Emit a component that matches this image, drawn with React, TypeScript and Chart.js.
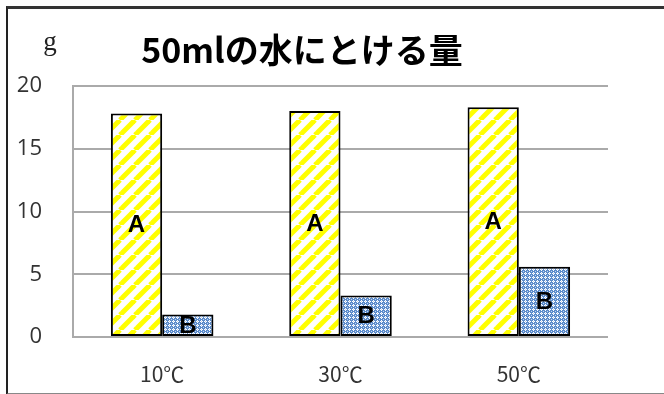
import React, { useEffect, useRef } from "react";
import { Chart, registerables } from "chart.js";

Chart.register(...registerables);

const categories = ["10℃", "30℃", "50℃"];
const seriesA = [17.8, 18.0, 18.3];
const seriesB = [1.8, 3.3, 5.6];
const seriesLabels = ["A", "B"];
const yTicks = [0, 5, 10, 15, 20];
const titleText = "50mlの水にとける量";
const unitText = "g";

function makeStripePattern(): CanvasPattern | string {
  const T = 15;
  const c = document.createElement("canvas");
  c.width = T;
  c.height = T;
  const g = c.getContext("2d");
  if (!g) return "#ffff00";
  g.fillStyle = "#ffffff";
  g.fillRect(0, 0, T, T);
  g.strokeStyle = "#ffff00";
  g.lineWidth = 5;
  for (let k = -1; k <= 1; k++) {
    g.beginPath();
    g.moveTo(k * T, T);
    g.lineTo(k * T + T, 0);
    g.stroke();
  }
  return g.createPattern(c, "repeat") || "#ffff00";
}

function makeDotPattern(): CanvasPattern | string {
  const T = 4;
  const c = document.createElement("canvas");
  c.width = T;
  c.height = T;
  const g = c.getContext("2d");
  if (!g) return "#7fa5d8";
  g.fillStyle = "#5b8bcb";
  g.fillRect(0, 0, T, T);
  g.fillStyle = "#ffffff";
  g.fillRect(1, 0, 1, 1);
  g.fillRect(0, 1, 1, 1);
  g.fillRect(2, 1, 1, 1);
  g.fillRect(1, 2, 1, 1);
  g.fillStyle = "#c4d6f0";
  g.fillRect(1, 1, 1, 1);
  g.fillRect(3, 3, 1, 1);
  return g.createPattern(c, "repeat") || "#7fa5d8";
}

const decorPlugin = {
  id: "decor",
  afterDatasetsDraw(chart: any) {
    const ctx = chart.ctx;
    const area = chart.chartArea;
    ctx.save();
    // bar labels
    ctx.fillStyle = "#000";
    ctx.font = "bold 24px 'Liberation Sans', Arial, sans-serif";
    ctx.textAlign = "center";
    ctx.textBaseline = "middle";
    chart.data.datasets.forEach((ds: any, di: number) => {
      const meta = chart.getDatasetMeta(di);
      meta.data.forEach((bar: any) => {
        const cy = (bar.y + bar.base) / 2;
        ctx.fillText(ds.label, bar.x, cy + 1);
      });
    });
    // title
    ctx.font = "bold 34px 'Noto Sans CJK JP', sans-serif";
    ctx.fillStyle = "#000";
    ctx.textAlign = "center";
    ctx.textBaseline = "middle";
    ctx.fillText(titleText, area.left + 229, area.top - 36);
    // unit
    ctx.font = "27px 'Liberation Serif', 'DejaVu Serif', serif";
    ctx.fillStyle = "#222";
    ctx.textAlign = "center";
    ctx.textBaseline = "alphabetic";
    ctx.fillText(unitText, area.left - 23, area.top - 36);
    ctx.restore();
  },
};

export default function App() {
  const ref = useRef<HTMLCanvasElement | null>(null);

  useEffect(() => {
    document.body.style.margin = "0";
    const canvas = ref.current;
    if (!canvas) return;
    const patA = makeStripePattern();
    const patB = makeDotPattern();
    const chart = new Chart(canvas, {
      type: "bar",
      data: {
        labels: categories,
        datasets: [
          {
            label: seriesLabels[0],
            data: seriesA,
            backgroundColor: patA as any,
            borderColor: "#000000",
            borderWidth: 2,
            borderSkipped: false,
            categoryPercentage: 0.575,
            barPercentage: 1.0,
          },
          {
            label: seriesLabels[1],
            data: seriesB,
            backgroundColor: patB as any,
            borderColor: "#000000",
            borderWidth: 2,
            borderSkipped: false,
            categoryPercentage: 0.575,
            barPercentage: 1.0,
          },
        ],
      },
      options: {
        animation: false,
        responsive: false,
        maintainAspectRatio: false,
        devicePixelRatio: 1,
        layout: { padding: { left: 0, top: 86, right: 56, bottom: 0 } },
        plugins: {
          legend: { display: false },
          title: { display: false },
          tooltip: { enabled: false },
        },
        scales: {
          x: {
            grid: { display: false, drawTicks: false },
            border: { display: false },
            ticks: {
              color: "#333",
              padding: 24,
              font: { size: 21, family: "'Noto Sans CJK JP', sans-serif" },
            },
            afterFit: (s: any) => {
              s.height = 57;
            },
          },
          y: {
            min: 0,
            max: 20,
            afterBuildTicks: (s: any) => {
              s.ticks = yTicks.map((v) => ({ value: v }));
            },
            grid: { color: "#aaaaaa", lineWidth: 2, drawTicks: false },
            border: { display: true, color: "#aaaaaa", width: 2 },
            ticks: {
              color: "#333",
              padding: 31,
              font: { size: 22, family: "'Open Sans', sans-serif" },
            },
            afterFit: (s: any) => {
              s.width = 73;
            },
          },
        },
      },
      plugins: [decorPlugin],
    });
    return () => chart.destroy();
  }, []);

  return (
    <div style={{ position: "absolute", left: 0, top: 0, width: 664, height: 394, overflow: "hidden", background: "#fff" }}>
      <div
        style={{
          position: "absolute",
          left: 6,
          top: 6,
          width: 700,
          height: 384,
          borderLeft: "2px solid #222",
          borderTop: "3px solid #333",
          borderBottom: "2px solid #888",
        }}
      />
      <canvas ref={ref} width={664} height={394} style={{ position: "absolute", left: 0, top: 0, width: 664, height: 394 }} />
    </div>
  );
}
